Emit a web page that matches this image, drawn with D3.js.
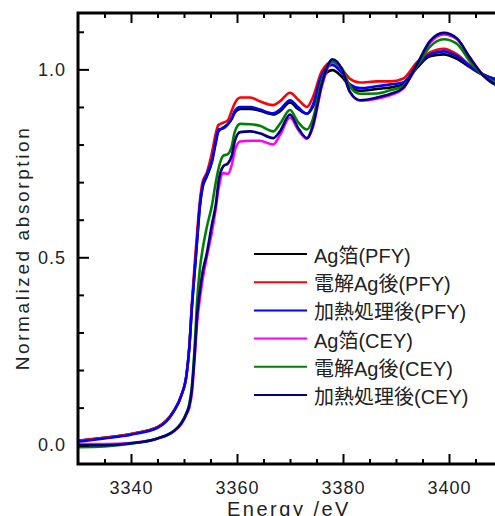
<!DOCTYPE html>
<html lang="ja">
    <head>
        <meta charset="utf-8">
        <title>Ag L-edge XANES</title>
        <script src="https://d3js.org/d3.v7.min.js"></script>
        <style>
            body { margin: 0; background: #fff; }
            text { font-family: "Liberation Sans", Arial, "Noto Sans CJK JP", sans-serif; fill: #222; }
        </style>
    </head>
    <body>
        <script>
            // energy grid (eV) shared by all spectra
            const energy = [3330, 3335, 3340, 3345, 3348, 3349.5, 3350.5, 3351, 3351.5, 3352, 3352.5, 3353, 3353.5, 3354.3, 3355.3, 3356, 3356.5, 3357.4, 3358.3, 3359, 3359.6, 3360.6, 3362.5, 3364.3, 3366.8, 3368.1, 3370, 3371.5, 3373.2, 3374.3, 3376, 3378, 3379.8, 3381.3, 3383.2, 3386.4, 3389, 3391.3, 3394, 3396.4, 3399, 3401.5, 3404, 3406.4, 3408.7, 3410];

            const agFoilPFY = [0.012, 0.02, 0.03, 0.048, 0.09, 0.132, 0.19, 0.26, 0.37, 0.46, 0.55, 0.635, 0.685, 0.715, 0.755, 0.805, 0.835, 0.845, 0.855, 0.868, 0.885, 0.895, 0.895, 0.89, 0.88, 0.888, 0.912, 0.895, 0.882, 0.9, 0.975, 0.998, 0.98, 0.955, 0.943, 0.948, 0.952, 0.96, 1.005, 1.035, 1.04, 1.028, 1.005, 0.985, 0.975, 0.97];
            const elecAgPFY = [0.012, 0.02, 0.03, 0.048, 0.09, 0.133, 0.19, 0.26, 0.38, 0.48, 0.57, 0.65, 0.70, 0.725, 0.78, 0.83, 0.852, 0.858, 0.865, 0.89, 0.91, 0.925, 0.925, 0.915, 0.905, 0.915, 0.938, 0.92, 0.9, 0.925, 0.995, 1.02, 1.0, 0.975, 0.965, 0.968, 0.968, 0.975, 1.02, 1.045, 1.055, 1.04, 1.01, 0.985, 0.97, 0.965];
            const heatedPFY = [0.009, 0.018, 0.028, 0.046, 0.088, 0.133, 0.19, 0.26, 0.37, 0.46, 0.55, 0.64, 0.69, 0.72, 0.76, 0.81, 0.84, 0.843, 0.854, 0.87, 0.89, 0.90, 0.90, 0.893, 0.883, 0.893, 0.918, 0.90, 0.882, 0.905, 0.985, 1.012, 0.99, 0.96, 0.95, 0.955, 0.96, 0.965, 1.01, 1.04, 1.048, 1.035, 1.008, 0.987, 0.973, 0.968];
            const agFoilCEY = [0.004, 0.003, 0.006, 0.018, 0.036, 0.056, 0.083, 0.10, 0.14, 0.23, 0.33, 0.39, 0.44, 0.50, 0.57, 0.63, 0.68, 0.724, 0.722, 0.745, 0.785, 0.808, 0.81, 0.81, 0.80, 0.825, 0.872, 0.84, 0.815, 0.845, 0.955, 1.022, 0.998, 0.94, 0.917, 0.922, 0.932, 0.948, 1.012, 1.07, 1.093, 1.08, 1.03, 0.985, 0.96, 0.955];
            const elecAgCEY = [-0.005, -0.003, 0.004, 0.018, 0.037, 0.06, 0.088, 0.11, 0.16, 0.26, 0.39, 0.47, 0.52, 0.58, 0.64, 0.70, 0.735, 0.77, 0.775, 0.795, 0.835, 0.855, 0.854, 0.85, 0.835, 0.855, 0.892, 0.86, 0.84, 0.867, 0.97, 1.02, 1.003, 0.955, 0.935, 0.936, 0.945, 0.955, 1.01, 1.06, 1.08, 1.068, 1.02, 0.985, 0.965, 0.96];
            const heatedCEY = [0.0, 0.0, 0.005, 0.018, 0.037, 0.058, 0.085, 0.105, 0.15, 0.24, 0.35, 0.41, 0.46, 0.51, 0.59, 0.64, 0.70, 0.742, 0.75, 0.77, 0.81, 0.833, 0.835, 0.83, 0.817, 0.835, 0.88, 0.845, 0.817, 0.85, 0.96, 1.027, 1.0, 0.94, 0.918, 0.925, 0.935, 0.95, 1.015, 1.075, 1.097, 1.082, 1.03, 0.985, 0.96, 0.955];

            const seriesNames = ['Ag箔(PFY)', '電解Ag後(PFY)', '加熱処理後(PFY)', 'Ag箔(CEY)', '電解Ag後(CEY)', '加熱処理後(CEY)'];
            const seriesValues = [agFoilPFY, elecAgPFY, heatedPFY, agFoilCEY, elecAgCEY, heatedCEY];
            const seriesColors = ['#000000', '#ff0000', '#0000ff', '#ff00ff', '#008000', '#000080'];

            const xMajorTicks = [3340, 3360, 3380, 3400];
            const yMajorTicks = [0.0, 0.5, 1.0];

            const w = 495;
            const h = 516;
            const plotL = 78, plotT = 13, plotR = 502, plotB = 464;

            const svg = d3.select('body')
                          .append('svg')
                          .attr('width', w)
                          .attr('height', h)

            const xScale = d3.scaleLinear()
                             .domain([3330, 3410])
                             .range([plotL, plotR])
            const yScale = d3.scaleLinear()
                             .domain([-0.05, 1.15])
                             .range([plotB, plotT])

            svg.append('clipPath')
               .attr('id', 'plot-clip')
               .append('rect')
               .attr('x', plotL)
               .attr('y', plotT)
               .attr('width', plotR - plotL)
               .attr('height', plotB - plotT)

            // spectra
            const line = d3.line()
                           .x((d, i) => xScale(energy[i]))
                           .y(d => yScale(d))
                           .curve(d3.curveMonotoneX)

            svg.append('g')
               .attr('clip-path', 'url(#plot-clip)')
               .selectAll('path')
               .data(seriesValues)
               .enter()
               .append('path')
               .attr('d', d => line(d))
               .attr('fill', 'none')
               .attr('stroke', (d, i) => seriesColors[i])
               .attr('stroke-width', 2.6)
               .attr('stroke-linejoin', 'round')

            // axes: ticks point inward, minor ticks unlabeled
            const xMinor = d3.range(3335, 3410, 5).filter(v => !xMajorTicks.includes(v));
            const yMinor = d3.range(0, 1.15, 0.1).map(v => +v.toFixed(1)).filter(v => !yMajorTicks.includes(v));

            function styleAxis(g) {
                g.select('.domain').remove();
                g.selectAll('line').attr('stroke', '#000').attr('stroke-width', 2);
                g.selectAll('text')
                 .attr('font-size', 18)
                 .attr('letter-spacing', 1)
                 .attr('fill', '#222');
            }

            svg.append('g')
               .attr('transform', 'translate(0,' + plotB + ')')
               .call(d3.axisBottom(xScale).tickValues(xMajorTicks).tickSize(-10).tickPadding(17).tickFormat(d3.format('d')))
               .call(styleAxis)
            svg.append('g')
               .attr('transform', 'translate(0,' + plotB + ')')
               .call(d3.axisBottom(xScale).tickValues(xMinor).tickSize(-5).tickFormat(''))
               .call(styleAxis)
            svg.append('g')
               .attr('transform', 'translate(0,' + plotT + ')')
               .call(d3.axisTop(xScale).tickValues(xMajorTicks).tickSize(-10).tickFormat(''))
               .call(styleAxis)
            svg.append('g')
               .attr('transform', 'translate(0,' + plotT + ')')
               .call(d3.axisTop(xScale).tickValues(xMinor).tickSize(-5).tickFormat(''))
               .call(styleAxis)
            svg.append('g')
               .attr('transform', 'translate(' + plotL + ',0)')
               .call(d3.axisLeft(yScale).tickValues(yMajorTicks).tickSize(-11).tickPadding(12).tickFormat(d3.format('.1f')))
               .call(styleAxis)
            svg.append('g')
               .attr('transform', 'translate(' + plotL + ',0)')
               .call(d3.axisLeft(yScale).tickValues(yMinor).tickSize(-6).tickFormat(''))
               .call(styleAxis)

            // frame
            svg.append('rect')
               .attr('x', plotL)
               .attr('y', plotT)
               .attr('width', plotR - plotL)
               .attr('height', plotB - plotT)
               .attr('fill', 'none')
               .attr('stroke', '#000')
               .attr('stroke-width', 3)

            // axis titles
            svg.append('text')
               .text('Energy /eV')
               .attr('x', 289)
               .attr('y', 516)
               .attr('text-anchor', 'middle')
               .attr('font-size', 20)
               .attr('letter-spacing', 2.5)

            svg.append('text')
               .text('Normalized absorption')
               .attr('transform', 'translate(29,248) rotate(-90)')
               .attr('text-anchor', 'middle')
               .attr('font-size', 19)
               .attr('letter-spacing', 2.6)

            // legend
            const legend = svg.append('g')
                              .selectAll('g')
                              .data(seriesNames)
                              .enter()
                              .append('g')
                              .attr('transform', (d, i) => 'translate(254,' + (254 + i * 28.2) + ')')
            legend.append('line')
                  .attr('x1', 0)
                  .attr('x2', 53)
                  .attr('stroke', (d, i) => seriesColors[i])
                  .attr('stroke-width', 2)
            legend.append('text')
                  .text(d => d)
                  .attr('x', 60)
                  .attr('y', 9)
                  .attr('font-size', 20)
        </script>
    </body>
</html>
